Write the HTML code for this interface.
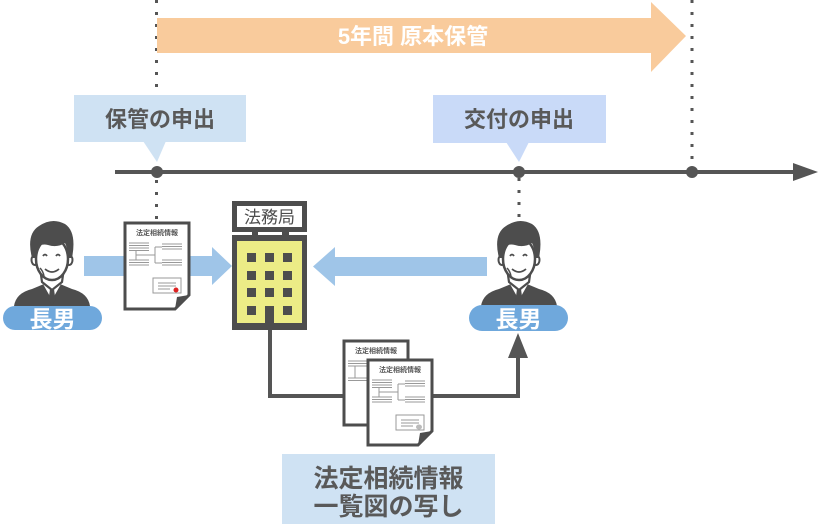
<!DOCTYPE html>
<html><head><meta charset="utf-8"><style>
html,body{margin:0;padding:0;background:#fff;}
svg{display:block;}
text{font-family:"Liberation Sans","Noto Sans CJK JP",sans-serif;}
</style></head><body>
<svg width="819" height="526" viewBox="0 0 819 526" xmlns="http://www.w3.org/2000/svg">
<!-- dotted verticals -->
<line x1="156.5" y1="0" x2="156.5" y2="222" stroke="#555" stroke-width="3" stroke-dasharray="3 9"/>
<line x1="692" y1="0" x2="692" y2="172" stroke="#555" stroke-width="3" stroke-dasharray="3 9"/>
<line x1="519" y1="178" x2="519" y2="220" stroke="#555" stroke-width="3" stroke-dasharray="3 9"/>

<!-- orange arrow -->
<polygon points="157,18 651,18 651,2 686,36 651,72 651,53 157,53" fill="#f9cb9c"/>
<text x="413" y="44" font-size="22" font-weight="bold" fill="#fff" text-anchor="middle">5年間 原本保管</text>

<!-- labels -->
<rect x="74" y="95" width="172" height="47" fill="#cfe2f3"/>
<polygon points="143,141 166,141 157,162" fill="#cfe2f3"/>
<text x="160" y="127" font-size="22" font-weight="bold" fill="#595959" text-anchor="middle">保管の申出</text>
<rect x="433" y="95" width="173" height="48" fill="#c9daf8"/>
<polygon points="506,142 529,142 519,162" fill="#c9daf8"/>
<text x="519" y="127" font-size="22" font-weight="bold" fill="#595959" text-anchor="middle">交付の申出</text>

<!-- timeline -->
<line x1="115" y1="172" x2="796" y2="172" stroke="#555" stroke-width="4"/>
<polygon points="793,163 818,172 793,181" fill="#555"/>
<circle cx="157" cy="172" r="6" fill="#555"/>
<circle cx="519" cy="172" r="6" fill="#555"/>
<circle cx="692" cy="172" r="6" fill="#555"/>

<!-- light blue arrows -->
<rect x="84" y="256" width="130" height="20" fill="#9fc5e8"/>
<polygon points="212,247 232,266 212,285" fill="#9fc5e8"/>
<rect x="333" y="257" width="154" height="19" fill="#9fc5e8"/>
<polygon points="335,247 313,266.5 335,286" fill="#9fc5e8"/>

<!-- connector -->
<polyline points="270,330 270,396 518,396 518,352" fill="none" stroke="#555" stroke-width="4"/>
<polygon points="518,333 508,358 528,358" fill="#555"/>

<!-- persons -->
<g>
  <path d="M14,306 Q16,293 32,289 L44,284 L60,284 L72,289 Q88,293 90,306 Z" fill="#4d4d4d"/>
  <polygon points="43,284 52,300 61,284" fill="#fff"/>
  <polygon points="50,289 54,289 55.5,300 52,305 48.5,300" fill="#4d4d4d"/>
  <path d="M40,268 L42,282 L52,290 L62,282 L64,268 Z" fill="#fff" stroke="#4d4d4d" stroke-width="2.2"/>
  <ellipse cx="35" cy="260" rx="3.5" ry="5" fill="#fff" stroke="#4d4d4d" stroke-width="2"/>
  <ellipse cx="69" cy="260" rx="3.5" ry="5" fill="#fff" stroke="#4d4d4d" stroke-width="2"/>
  <ellipse cx="52" cy="259" rx="16" ry="21" fill="#fff" stroke="#4d4d4d" stroke-width="2.5"/>
  <path d="M32,258 Q26,234 39,226 Q52,217 65,224 Q77,232 72,258 L68,258 Q68,249 65,243 Q57,248 48,245 Q40,243 37,249 Q35,254 35,258 Z" fill="#4d4d4d"/>
  <path d="M43,256 Q45,253 47,256" fill="none" stroke="#4d4d4d" stroke-width="1.8"/>
  <path d="M56,256 Q58,253 60,256" fill="none" stroke="#4d4d4d" stroke-width="1.8"/>
  <path d="M45,269 Q52,275 59,269" fill="none" stroke="#4d4d4d" stroke-width="1.8"/>
  <path d="M40,268 Q43,271 44,276" fill="none" stroke="#4d4d4d" stroke-width="1.5"/>
  <rect x="3" y="306" width="99" height="24" rx="12" fill="#6fa8dc"/>
  <text x="52.5" y="327" font-size="23" font-weight="bold" fill="#fff" text-anchor="middle">長男</text>
</g>
<g transform="translate(467,0)">
  <path d="M14,306 Q16,293 32,289 L44,284 L60,284 L72,289 Q88,293 90,306 Z" fill="#4d4d4d"/>
  <polygon points="43,284 52,300 61,284" fill="#fff"/>
  <polygon points="50,289 54,289 55.5,300 52,305 48.5,300" fill="#4d4d4d"/>
  <path d="M40,268 L42,282 L52,290 L62,282 L64,268 Z" fill="#fff" stroke="#4d4d4d" stroke-width="2.2"/>
  <ellipse cx="35" cy="260" rx="3.5" ry="5" fill="#fff" stroke="#4d4d4d" stroke-width="2"/>
  <ellipse cx="69" cy="260" rx="3.5" ry="5" fill="#fff" stroke="#4d4d4d" stroke-width="2"/>
  <ellipse cx="52" cy="259" rx="16" ry="21" fill="#fff" stroke="#4d4d4d" stroke-width="2.5"/>
  <path d="M32,258 Q26,234 39,226 Q52,217 65,224 Q77,232 72,258 L68,258 Q68,249 65,243 Q57,248 48,245 Q40,243 37,249 Q35,254 35,258 Z" fill="#4d4d4d"/>
  <path d="M43,256 Q45,253 47,256" fill="none" stroke="#4d4d4d" stroke-width="1.8"/>
  <path d="M56,256 Q58,253 60,256" fill="none" stroke="#4d4d4d" stroke-width="1.8"/>
  <path d="M45,269 Q52,275 59,269" fill="none" stroke="#4d4d4d" stroke-width="1.8"/>
  <path d="M40,268 Q43,271 44,276" fill="none" stroke="#4d4d4d" stroke-width="1.5"/>
  <rect x="2" y="305" width="99" height="26" rx="13" fill="#6fa8dc"/>
  <text x="51.5" y="327" font-size="23" font-weight="bold" fill="#fff" text-anchor="middle">長男</text>
</g>

<!-- building -->
<rect x="232" y="201" width="75" height="30" fill="#4d4d4d"/>
<rect x="237" y="206" width="65" height="21" fill="#fff"/>
<text x="269.5" y="223" font-size="17" fill="#4d4d4d" text-anchor="middle">法務局</text>
<rect x="232" y="231" width="75" height="99" fill="#4d4d4d"/>
<rect x="232" y="232" width="20" height="3" fill="#fff"/>
<rect x="258" y="232" width="24" height="3" fill="#fff"/>
<rect x="289" y="232" width="18" height="3" fill="#fff"/>
<rect x="237" y="241" width="65" height="82" fill="#ecec86"/>
<g fill="#4d4d4d">
  <rect x="247" y="253" width="9" height="9"/><rect x="265" y="253" width="9" height="9"/><rect x="283" y="253" width="9" height="9"/>
  <rect x="247" y="271" width="9" height="9"/><rect x="265" y="271" width="9" height="9"/><rect x="283" y="271" width="9" height="9"/>
  <rect x="247" y="288" width="9" height="9"/><rect x="265" y="288" width="9" height="9"/><rect x="283" y="288" width="9" height="9"/>
  <rect x="247" y="306" width="9" height="9"/><rect x="265" y="306" width="9" height="20"/><rect x="283" y="306" width="9" height="9"/>
</g>

<!-- document left -->
<g transform="translate(125,223)">
  <path d="M0,0 H64 V72 L50,86 H0 Z" fill="#fff" stroke="#4d4d4d" stroke-width="3"/>
  <polygon points="64,72 50,86 52,74" fill="#4d4d4d"/>
  <text x="32" y="12" font-size="7" font-weight="bold" fill="#555" text-anchor="middle">法定相続情報</text>
  <g stroke="#999" stroke-width="1">
    <line x1="4" y1="20" x2="24" y2="20"/><line x1="4" y1="22.5" x2="24" y2="22.5"/><line x1="4" y1="25" x2="24" y2="25"/><line x1="4" y1="27.5" x2="24" y2="27.5"/>
    <line x1="4" y1="37" x2="24" y2="37"/><line x1="4" y1="39.5" x2="24" y2="39.5"/><line x1="4" y1="42" x2="24" y2="42"/>
    <line x1="11" y1="27.5" x2="11" y2="37"/><line x1="11" y1="32" x2="30" y2="32"/>
    <line x1="30" y1="24" x2="30" y2="40"/><line x1="30" y1="24" x2="37" y2="24"/><line x1="30" y1="40" x2="37" y2="40"/>
    <line x1="37" y1="21" x2="57" y2="21"/><line x1="37" y1="23.5" x2="57" y2="23.5"/><line x1="37" y1="26" x2="57" y2="26"/>
    <line x1="37" y1="37" x2="57" y2="37"/><line x1="37" y1="39.5" x2="57" y2="39.5"/><line x1="37" y1="42" x2="57" y2="42"/>
    <rect x="28" y="55" width="28" height="15" fill="none"/>
    <line x1="33" y1="60" x2="51" y2="60"/><line x1="33" y1="63" x2="51" y2="63"/><line x1="33" y1="66" x2="45" y2="66"/>
  </g>
  <circle cx="51" cy="67" r="2.5" fill="#d22"/>
</g>

<!-- documents bottom (back) -->
<g transform="translate(344,341)">
  <path d="M0,0 H64 V84 H0 Z" fill="#fff" stroke="#4d4d4d" stroke-width="3"/>
  <text x="32" y="12" font-size="7" font-weight="bold" fill="#555" text-anchor="middle">法定相続情報</text>
  <g stroke="#999" stroke-width="1">
    <line x1="4" y1="20" x2="24" y2="20"/><line x1="4" y1="22.5" x2="24" y2="22.5"/><line x1="4" y1="25" x2="24" y2="25"/>
    <line x1="4" y1="37" x2="24" y2="37"/><line x1="4" y1="39.5" x2="24" y2="39.5"/>
    <line x1="11" y1="25" x2="11" y2="37"/>
  </g>
</g>
<!-- front -->
<g transform="translate(368,360)">
  <path d="M0,0 H64 V71 L50,85 H0 Z" fill="#fff" stroke="#4d4d4d" stroke-width="3"/>
  <polygon points="64,71 50,85 52,73" fill="#4d4d4d"/>
  <text x="32" y="12" font-size="7" font-weight="bold" fill="#555" text-anchor="middle">法定相続情報</text>
  <g stroke="#999" stroke-width="1">
    <line x1="4" y1="20" x2="24" y2="20"/><line x1="4" y1="22.5" x2="24" y2="22.5"/><line x1="4" y1="25" x2="24" y2="25"/><line x1="4" y1="27.5" x2="24" y2="27.5"/>
    <line x1="4" y1="37" x2="24" y2="37"/><line x1="4" y1="39.5" x2="24" y2="39.5"/><line x1="4" y1="42" x2="24" y2="42"/>
    <line x1="11" y1="27.5" x2="11" y2="37"/><line x1="11" y1="32" x2="30" y2="32"/>
    <line x1="30" y1="24" x2="30" y2="40"/><line x1="30" y1="24" x2="37" y2="24"/><line x1="30" y1="40" x2="37" y2="40"/>
    <line x1="37" y1="21" x2="57" y2="21"/><line x1="37" y1="23.5" x2="57" y2="23.5"/><line x1="37" y1="26" x2="57" y2="26"/>
    <line x1="37" y1="37" x2="57" y2="37"/><line x1="37" y1="39.5" x2="57" y2="39.5"/><line x1="37" y1="42" x2="57" y2="42"/>
    <rect x="28" y="55" width="28" height="15" fill="none"/>
    <line x1="33" y1="60" x2="51" y2="60"/><line x1="33" y1="63" x2="51" y2="63"/><line x1="33" y1="66" x2="45" y2="66"/>
  </g>
  <ellipse cx="51" cy="67" rx="3" ry="2.5" fill="#bbb"/>
</g>

<!-- bottom label -->
<rect x="282" y="454" width="213" height="70" fill="#cfe2f3"/>
<text x="388.5" y="487" font-size="25" font-weight="bold" fill="#595959" text-anchor="middle">法定相続情報</text>
<text x="388.5" y="515" font-size="25" font-weight="bold" fill="#595959" text-anchor="middle">一覧図の写し</text>
</svg>
</body></html>
